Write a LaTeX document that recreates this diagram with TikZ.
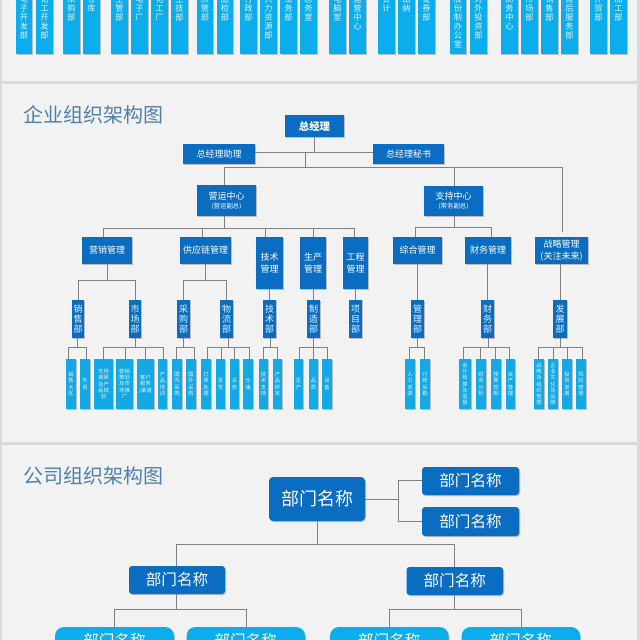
\documentclass[tikz,border=0pt]{standalone}
\usepackage{fontspec}
\setmainfont{Noto Sans CJK SC}
\usetikzlibrary{shadows}
\definecolor{bg}{HTML}{F2F2F2}
\definecolor{band}{HTML}{D9D9D9}
\definecolor{deep}{HTML}{0A6DC2}
\definecolor{sky}{HTML}{0BADEC}
\definecolor{leafc}{HTML}{14A8E4}
\definecolor{ttl}{HTML}{4F7FAF}
\definecolor{wire}{HTML}{808080}
\definecolor{pale}{HTML}{E4F4FC}
\tikzset{
  x=1pt,y=-1pt,
  base/.style={inner sep=0pt,outer sep=0pt,align=center,text=white,
    drop shadow={shadow xshift=1pt,shadow yshift=-1pt,opacity=.22,fill=black}},
  strip/.style={base,fill=sky,text=pale,font=\fontsize{8.2}{9}\selectfont},
  small/.style={base,fill=deep,font=\fontsize{9}{11.5}\selectfont},
  vdept/.style={base,fill=deep,text=pale,font=\fontsize{9}{10}\selectfont},
  leaf/.style={base,fill=leafc,text=pale,font=\fontsize{5.3}{6.3}\selectfont},
  rbig/.style={base,fill=deep,rounded corners=4pt,font=\fontsize{18}{20}\selectfont},
  rmid/.style={base,fill=deep,rounded corners=3pt,font=\fontsize{15.6}{18}\selectfont},
  rpill/.style={base,fill=sky,rounded corners=9pt,font=\fontsize{15.6}{18}\selectfont},
  conn/.style={draw=wire,line width=.9pt},
  heading/.style={text=ttl,inner sep=0pt,font=\fontsize{20}{22}\selectfont},
}
% style, name, x1, y1, x2, y2, text
\def\bx#1#2#3#4#5#6#7{%
  \pgfmathsetmacro\cxx{(#3+#5)/2}\pgfmathsetmacro\cyy{(#4+#6)/2}%
  \pgfmathsetmacro\ww{#5-#3}\pgfmathsetmacro\hh{#6-#4}%
  \node[#1,minimum width=\ww pt,minimum height=\hh pt] (#2) at (\cxx,\cyy) {#7};}
% name, x1, x2, text (top aligned, runs off the top edge)
\def\sx#1#2#3#4{\bx{strip}{#1}{#2}{-4}{#3}{54}{\begin{minipage}[c][58pt][t]{12pt}\centering #4\end{minipage}}}
% leaf: name, x1, x2, text
\def\lf#1#2#3#4{\bx{leaf}{#1}{#2}{359}{#3}{409}{#4}}
% parent anchor, stem x, bus y, kid/x list
\newcommand\tree[4]{%
  \coordinate (s) at (#2,#3);
  \draw[conn] (#1 -| s) -- (s);
  \foreach \kid/\xx in {#4} {
    \coordinate (d) at (\xx,#3);
    \draw[conn] (s) -- (d) -- (\kid.north -| d);
  }}
\begin{document}
\begin{tikzpicture}
\useasboundingbox (0,0) rectangle (640,640);
\fill[bg] (0,0) rectangle (640,640);
\fill[band] (0,0) rectangle (2,640);
\fill[band] (637,0) rectangle (640,640);
\fill[band] (0,81) rectangle (640,83.5);
\fill[band] (0,442) rectangle (640,444.5);

% ---- top strips
\sx{a1}{16}{32}{电\\子\\开\\发\\部}
\sx{a2}{36}{53}{化\\工\\开\\发\\部}
\sx{a3}{63}{80}{采\\购\\部}
\sx{a4}{83}{100}{仓\\库}
\sx{a5}{111}{128}{生\\管\\部}
\sx{a6}{131}{148}{电\\子\\厂}
\sx{a7}{151}{168}{化\\工\\厂}
\sx{a8}{171}{188}{生\\技\\部}
\sx{a9}{197}{213}{质\\管\\部}
\sx{a10}{217}{233}{品\\检\\部}
\sx{a11}{240}{257}{行\\政\\部}
\sx{a12}{260}{277}{人\\力\\资\\源\\部}
\sx{a13}{280}{297}{法\\务\\部}
\sx{a14}{300}{317}{总\\务\\室}
\sx{a15}{329}{346}{电\\脑\\室}
\sx{a16}{349}{366}{运\\营\\中\\心}
\sx{a17}{378}{395}{会\\计}
\sx{a18}{398}{415}{出\\纳}
\sx{a19}{418}{435}{证\\券\\部}
\sx{a20}{450}{466}{股\\份\\制\\办\\公\\室}
\sx{a21}{470}{487}{对\\外\\投\\资\\部}
\sx{a22}{501}{518}{商\\务\\中\\心}
\sx{a23}{521}{538}{市\\场\\部}
\sx{a24}{541}{558}{销\\售\\部}
\sx{a25}{561}{578}{售\\后\\服\\务\\部}
\sx{a26}{590}{607}{外\\贸\\部}
\sx{a27}{610}{627}{加\\工\\部}

% ---- middle chart
\node[heading,anchor=west] (t1) at (23,115) {企业组织架构图};
\bx{small}{zjl}{285}{115}{344}{137}{\fontsize{10.4}{12}\selectfont\textbf{总经理}}
\bx{small}{zl}{183}{144}{255}{164}{总经理助理}
\bx{small}{ms}{373}{144}{444}{164}{总经理秘书}
\bx{small}{yy}{197}{185}{256}{216}{营运中心\\[-2.5pt]{\fontsize{6.4}{7}\selectfont (营运副总)}}
\bx{small}{zc}{424}{186}{483}{216}{支持中心\\[-2.5pt]{\fontsize{6.4}{7}\selectfont (常务副总)}}
\bx{small}{m1}{82}{237}{132}{264}{营销管理}
\bx{small}{m2}{180}{237}{231}{264}{供应链管理}
\bx{small}{m3}{256}{237}{283}{289}{技术\\管理}
\bx{small}{m4}{300}{237}{326}{289}{生产\\管理}
\bx{small}{m5}{343}{237}{368}{289}{工程\\管理}
\bx{small}{m6}{393}{237}{442}{264}{综合管理}
\bx{small}{m7}{465}{237}{511}{264}{财务管理}
\bx{small}{m8}{535}{237}{588}{264}{战略管理\\(关注未来)}

\bx{vdept}{d1}{72}{300}{84}{338}{销\\售\\部}
\bx{vdept}{d2}{129}{300}{141}{338}{市\\场\\部}
\bx{vdept}{d3}{177}{300}{190}{338}{采\\购\\部}
\bx{vdept}{d4}{220}{300}{233}{338}{物\\流\\部}
\bx{vdept}{d5}{263}{300}{276}{338}{技\\术\\部}
\bx{vdept}{d6}{307}{300}{320}{338}{制\\造\\部}
\bx{vdept}{d7}{349}{300}{362}{338}{项\\目\\部}
\bx{vdept}{d8}{411}{300}{424}{338}{管\\理\\部}
\bx{vdept}{d9}{481}{300}{494}{338}{财\\务\\部}
\bx{vdept}{d10}{553}{300}{567}{338}{发\\展\\部}

\lf{e1}{66}{76}{销\\售\\大\\区}
\lf{e2}{80}{90}{外\\贸}
\lf{e3}{94}{113}{市场\\调研\\及产\\品规\\划}
\lf{e4}{116}{133}{营销\\策划\\及市\\场推\\广}
\lf{e5}{137}{154}{客户\\服务\\/渠道}
\lf{e6}{158}{167}{产\\品\\培\\训}
\lf{e7}{172}{182}{国\\内\\采\\购}
\lf{e8}{186}{196}{国\\外\\采\\购}
\lf{e9}{201}{211}{订\\单\\处\\理}
\lf{e10}{216}{225}{发\\货}
\lf{e11}{230}{239}{关\\务}
\lf{e12}{243}{253}{仓\\储}
\lf{e13}{259}{268}{技\\术\\支\\持}
\lf{e14}{273}{282}{产\\品\\研\\发}
\lf{e15}{294}{303}{生\\产}
\lf{e16}{309}{318}{品\\质}
\lf{e17}{322}{332}{设\\备}
\lf{e18}{405}{415}{人\\力\\资\\源}
\lf{e19}{420}{430}{行\\政\\后\\勤}
\lf{e20}{459}{471}{会\\计\\核\\算\\及\\监\\督}
\lf{e21}{476}{486}{财\\务\\分\\析}
\lf{e22}{491}{501}{预\\算\\控\\制}
\lf{e23}{506}{515}{资\\产\\管\\理}
\lf{e24}{534}{544}{战\\略\\及\\组\\织\\管\\理}
\lf{e25}{548}{558}{企\\业\\文\\化\\及\\品\\牌}
\lf{e26}{562}{572}{投\\资\\发\\展}
\lf{e27}{576}{586}{风\\险\\管\\理}

% connectors, middle chart
\coordinate (t) at (314,152);
\draw[conn] (zjl.south -| t) -- (t);
\draw[conn] (zl.east |- t) -- (ms.west |- t);
\coordinate (j) at (305,152);
\tree{j}{305}{167}{yy/224,zc/454}
\coordinate (d) at (562,167);
\draw[conn] (s) -- (d);
\draw[conn,shorten >=5pt] (d) -- (m8.north -| d);
\tree{yy.south}{224}{228}{m1/103,m2/202,m3/265,m4/313,m5/354}
\tree{zc.south}{454}{227}{m6/415,m7/491}
\tree{m1.south}{107}{280}{d1/78,d2/135}
\tree{m2.south}{205}{280}{d3/183,d4/226}
\draw[conn] (m3.south -| d5) -- (d5);
\draw[conn] (m4.south -| d6) -- (d6);
\draw[conn] (m5.south -| d7) -- (d7);
\draw[conn] (m6.south -| d8) -- (d8);
\draw[conn] (m7.south -| d9) -- (d9);
\coordinate (k) at (560,264);
\draw[conn] (k) -- (d10.north -| k);
\tree{d1.south}{77}{347}{e1/68,e2/86}
\tree{d2.south}{135}{347}{e3/103,e4/125,e5/145,e6/163}
\tree{d3.south}{183}{347}{e7/176,e8/194}
\tree{d4.south}{228}{347}{e9/207,e10/221,e11/234,e12/249}
\tree{d5.south}{270}{347}{e13/263,e14/277}
\tree{d6.south}{313}{347}{e15/299,e16/313,e17/327}
\tree{d8.south}{417}{347}{e18/409,e19/424}
\tree{d9.south}{488}{347}{e20/463,e21/480,e22/495,e23/509}
\tree{d10.south}{560}{347}{e24/538,e25/553,e26/567,e27/582}

% ---- bottom chart
\node[heading,anchor=west] (t2) at (23,476) {公司组织架构图};
\bx{rbig}{r0}{269}{477}{365}{521}{部门名称}
\bx{rmid}{r1}{422}{467}{519}{495}{部门名称}
\bx{rmid}{r2}{422}{507}{519}{536}{部门名称}
\bx{rmid}{r3}{129}{566}{225}{594}{部门名称}
\bx{rmid}{r4}{406.5}{567}{503}{595}{部门名称}
\bx{rpill}{r5}{55}{627}{174}{655}{部门名称}
\bx{rpill}{r6}{186.5}{627}{305}{655}{部门名称}
\bx{rpill}{r7}{330}{627}{448.5}{655}{部门名称}
\bx{rpill}{r8}{461.6}{627}{580}{655}{部门名称}
\coordinate (q) at (398,499);
\draw[conn] (r0.east |- q) -- (q);
\coordinate (q1) at (398,480);
\coordinate (q2) at (398,521);
\draw[conn] (r1.west |- q1) -- (q1) -- (q2) -- (r2.west |- q2);
\tree{r0.south}{317}{544}{r3/176,r4/454}
\tree{r3.south}{176}{609}{r5/114,r6/246}
\tree{r4.south}{454}{609}{r7/389,r8/521}
\end{tikzpicture}
\end{document}
